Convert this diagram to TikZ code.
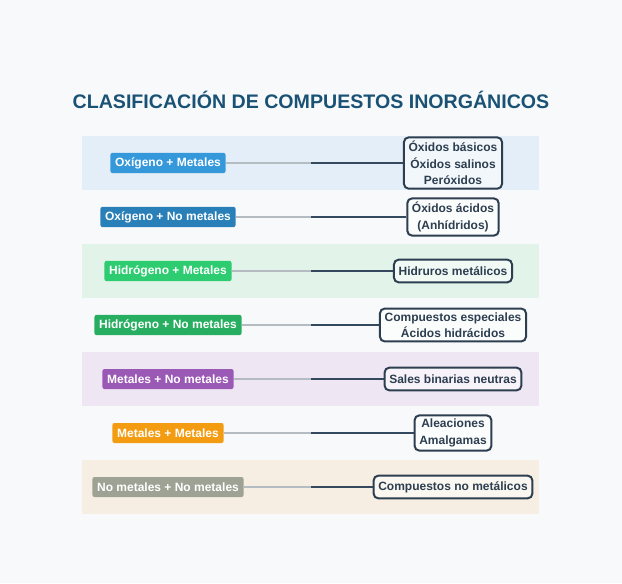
\documentclass[tikz,border=0pt]{standalone}
\usepackage{fontspec}
\setmainfont{Liberation Sans}
\definecolor{bgc}{HTML}{F8F9FA}
\definecolor{bandA}{HTML}{E4EEF8}
\definecolor{bandB}{HTML}{E2F3EA}
\definecolor{bandC}{HTML}{EFE6F3}
\definecolor{bandD}{HTML}{F6EEE2}
\definecolor{titlec}{HTML}{1A5276}
\definecolor{darkc}{HTML}{2C3E50}
\definecolor{linedark}{HTML}{34495E}
\definecolor{linegray}{HTML}{B4BCC2}
\definecolor{cA}{HTML}{3498DB}
\definecolor{cB}{HTML}{2980B9}
\definecolor{cC}{HTML}{2ECC71}
\definecolor{cD}{HTML}{27AE60}
\definecolor{cE}{HTML}{9B59B6}
\definecolor{cF}{HTML}{F39C12}
\definecolor{cG}{HTML}{9EA294}
\begin{document}
\begin{tikzpicture}[x=0.75pt,y=-0.75pt,
  titlestyle/.style={text=titlec,font=\fontsize{14.7}{18}\selectfont\bfseries},
  lnode/.style={rounded corners=1.5pt,text=white,inner xsep=3.5pt,minimum height=15pt,font=\fontsize{9}{11}\selectfont\bfseries},
  rnode/.style={draw=darkc,line width=1.5pt,rounded corners=3.5pt,fill=white,fill opacity=0.55,text opacity=1,text=darkc,align=center,inner xsep=3.5pt,inner ysep=2.8pt,minimum height=17pt,font=\fontsize{9}{12.4}\selectfont\bfseries},
  gl/.style={draw=linegray,line width=1.5pt},
  dl/.style={draw=linedark,line width=1.5pt}]
\fill[bgc] (0,0) rectangle (622,583);
\fill[bandA] (82,136) rectangle (539,190);
\fill[bandB] (82,244) rectangle (539,298);
\fill[bandC] (82,352) rectangle (539,406);
\fill[bandD] (82,460) rectangle (539,514);
\node[titlestyle] (t) at (311,100) {CLASIFICACIÓN DE COMPUESTOS INORGÁNICOS};
% row 1
\node[lnode,fill=cA] (l1) at (168,163) {Oxígeno + Metales};
\node[rnode] (r1) at (453,163) {Óxidos básicos\\Óxidos salinos\\Peróxidos};
\coordinate (m1) at (311,163);
\draw[gl] (l1.east) -- (m1);
\draw[dl] (m1) -- (r1.west);
% row 2
\node[lnode,fill=cB] (l2) at (168,217) {Oxígeno + No metales};
\node[rnode] (r2) at (453,217) {Óxidos ácidos\\(Anhídridos)};
\coordinate (m2) at (311,217);
\draw[gl] (l2.east) -- (m2);
\draw[dl] (m2) -- (r2.west);
% row 3
\node[lnode,fill=cC] (l3) at (168,271) {Hidrógeno + Metales};
\node[rnode] (r3) at (453,271) {Hidruros metálicos};
\coordinate (m3) at (311,271);
\draw[gl] (l3.east) -- (m3);
\draw[dl] (m3) -- (r3.west);
% row 4
\node[lnode,fill=cD] (l4) at (168,325) {Hidrógeno + No metales};
\node[rnode] (r4) at (453,325) {Compuestos especiales\\Ácidos hidrácidos};
\coordinate (m4) at (311,325);
\draw[gl] (l4.east) -- (m4);
\draw[dl] (m4) -- (r4.west);
% row 5
\node[lnode,fill=cE] (l5) at (168,379) {Metales + No metales};
\node[rnode] (r5) at (453,379) {Sales binarias neutras};
\coordinate (m5) at (311,379);
\draw[gl] (l5.east) -- (m5);
\draw[dl] (m5) -- (r5.west);
% row 6
\node[lnode,fill=cF] (l6) at (168,433) {Metales + Metales};
\node[rnode] (r6) at (453,433) {Aleaciones\\Amalgamas};
\coordinate (m6) at (311,433);
\draw[gl] (l6.east) -- (m6);
\draw[dl] (m6) -- (r6.west);
% row 7
\node[lnode,fill=cG] (l7) at (168,487) {No metales + No metales};
\node[rnode] (r7) at (453,487) {Compuestos no metálicos};
\coordinate (m7) at (311,487);
\draw[gl] (l7.east) -- (m7);
\draw[dl] (m7) -- (r7.west);
\end{tikzpicture}
\end{document}
